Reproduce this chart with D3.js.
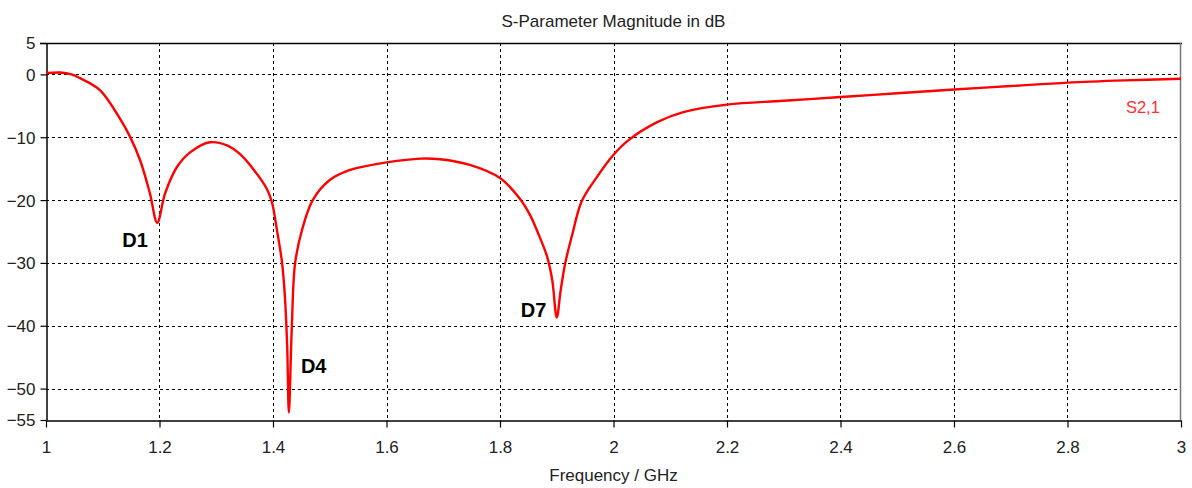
<!DOCTYPE html>
<html>
<head>
<meta charset="utf-8">
<script src="https://cdn.jsdelivr.net/npm/d3@7"></script>
<style>
  body { margin: 0; background: #fff; }
  text { font-family: "Liberation Sans", Arial, sans-serif; }
</style>
</head>
<body>
<script>
// frequency (GHz) and S21 magnitude (dB)
const freq = [1.0, 1.025, 1.045, 1.06, 1.095, 1.13, 1.148, 1.166, 1.183, 1.196,
  1.21, 1.231, 1.254, 1.289, 1.319, 1.342, 1.368, 1.389, 1.398, 1.407, 1.416,
  1.421, 1.425, 1.428, 1.433, 1.439, 1.451, 1.47, 1.5, 1.536, 1.553, 1.6, 1.66,
  1.694, 1.747, 1.8, 1.835, 1.853, 1.87, 1.883, 1.892, 1.9, 1.907, 1.915, 1.927,
  1.944, 1.971, 1.999, 2.026, 2.077, 2.123, 2.2, 2.3, 2.4, 2.5, 2.6, 2.7, 2.8,
  2.9, 3.0];
const s21 = [0.2, 0.3, 0.0, -0.6, -2.5, -7.0, -9.9, -13.7, -18.9, -23.6,
  -18.9, -14.7, -12.4, -10.8, -11.3, -12.7, -15.4, -18.2, -20.3, -24.8, -30.0,
  -35.4, -43.3, -53.8, -40.6, -30.0, -24.8, -20.0, -16.8, -15.2, -14.8, -14.0, -13.4,
  -13.5, -14.4, -16.5, -19.8, -22.4, -25.9, -29.0, -32.7, -38.7, -34.3, -30.0, -25.6,
  -20.2, -16.3, -12.9, -10.5, -7.6, -6.0, -4.8, -4.2, -3.6, -3.0, -2.4, -1.85, -1.3,
  -0.95, -0.7];

const xTicks = [1, 1.2, 1.4, 1.6, 1.8, 2, 2.2, 2.4, 2.6, 2.8, 3];
const yTicks = [5, 0, -10, -20, -30, -40, -50, -55];
const dips = [
  { name: 'D1', f: 1.196, db: -23.6 },
  { name: 'D4', f: 1.428, db: -53.8 },
  { name: 'D7', f: 1.9, db: -38.7 }
];

const width = 1192, height = 488;
const margin = { top: 43, right: 11, bottom: 68, left: 46 };

const svg = d3.select('body').append('svg')
  .attr('width', width)
  .attr('height', height);

const x = d3.scaleLinear().domain([1, 3]).range([margin.left, width - margin.right]);
const y = d3.scaleLinear().domain([-55, 5]).range([height - margin.bottom, margin.top]);

// grid
const grid = svg.append('g')
  .attr('stroke', '#000')
  .attr('stroke-width', 1)
  .attr('stroke-dasharray', '3,3');

grid.selectAll('.vg')
  .data(xTicks.filter((d) => d > 1 && d < 3))
  .enter().append('line')
  .attr('x1', (d) => Math.round(x(d)) + 0.5)
  .attr('x2', (d) => Math.round(x(d)) + 0.5)
  .attr('y1', y(5))
  .attr('y2', y(-55));

grid.selectAll('.hg')
  .data(yTicks.filter((d) => d < 5 && d > -55))
  .enter().append('line')
  .attr('x1', x(1))
  .attr('x2', x(3))
  .attr('y1', (d) => Math.round(y(d)) + 0.5)
  .attr('y2', (d) => Math.round(y(d)) + 0.5);

// frame
svg.append('line')
  .attr('x1', x(1) - 6).attr('x2', x(3) + 1)
  .attr('y1', Math.round(y(5)) + 0.5).attr('y2', Math.round(y(5)) + 0.5)
  .attr('stroke', '#000').attr('stroke-width', 1.5);
svg.append('line')
  .attr('x1', Math.round(x(3)) - 0.5).attr('x2', Math.round(x(3)) - 0.5)
  .attr('y1', y(5)).attr('y2', y(-55))
  .attr('stroke', '#777').attr('stroke-width', 1.5);

// axes
const xAxis = svg.append('g')
  .attr('transform', `translate(0,${Math.round(y(-55)) + 0.5})`)
  .call(d3.axisBottom(x).tickValues(xTicks).tickFormat(d3.format('')).tickSize(7).tickSizeOuter(0));
const yAxis = svg.append('g')
  .attr('transform', `translate(${Math.round(x(1)) + 0.5},0)`)
  .call(d3.axisLeft(y).tickValues(yTicks).tickSize(6).tickSizeOuter(0));

[xAxis, yAxis].forEach((ax) => {
  ax.select('.domain').attr('stroke', '#000').attr('stroke-width', 1.5);
  ax.selectAll('.tick line').attr('stroke', '#000').attr('stroke-width', 1.2);
  ax.selectAll('.tick text')
    .attr('fill', '#222')
    .style('font-family', '"Liberation Sans", Arial, sans-serif')
    .style('font-size', '17px');
});
xAxis.selectAll('.tick text').attr('y', 32).attr('dy', null);
yAxis.selectAll('.tick text').attr('x', -11).attr('dy', '0.35em');

// curve
const line = d3.line()
  .x((d, i) => x(freq[i]))
  .y((d) => y(d))
  .curve(d3.curveCatmullRom.alpha(0.5));

svg.append('path')
  .datum(s21)
  .attr('d', line)
  .attr('fill', 'none')
  .attr('stroke', '#ff0000')
  .attr('stroke-width', 2.4)
  .attr('stroke-linejoin', 'round');

// dip labels
const labelOffsets = { D1: [-35, 17], D4: [12, -46], D7: [-36, -8] };
svg.selectAll('.dip')
  .data(dips)
  .enter().append('text')
  .attr('x', (d) => x(d.f) + labelOffsets[d.name][0])
  .attr('y', (d) => y(d.db) + labelOffsets[d.name][1] + 7)
  .style('font-weight', 'bold')
  .style('font-size', '20px')
  .attr('fill', '#000')
  .text((d) => d.name);

// series label
svg.append('text')
  .attr('x', x(2.903))
  .attr('y', 113)
  .attr('fill', '#ff3030')
  .style('font-size', '16.5px')
  .text('S2,1');

// titles
svg.append('text')
  .attr('x', (x(1) + x(3)) / 2)
  .attr('y', 27)
  .attr('text-anchor', 'middle')
  .attr('fill', '#222')
  .style('font-size', '17px')
  .text('S-Parameter Magnitude in dB');

svg.append('text')
  .attr('x', (x(1) + x(3)) / 2)
  .attr('y', 481)
  .attr('text-anchor', 'middle')
  .attr('fill', '#222')
  .style('font-size', '17px')
  .text('Frequency / GHz');
</script>
</body>
</html>
